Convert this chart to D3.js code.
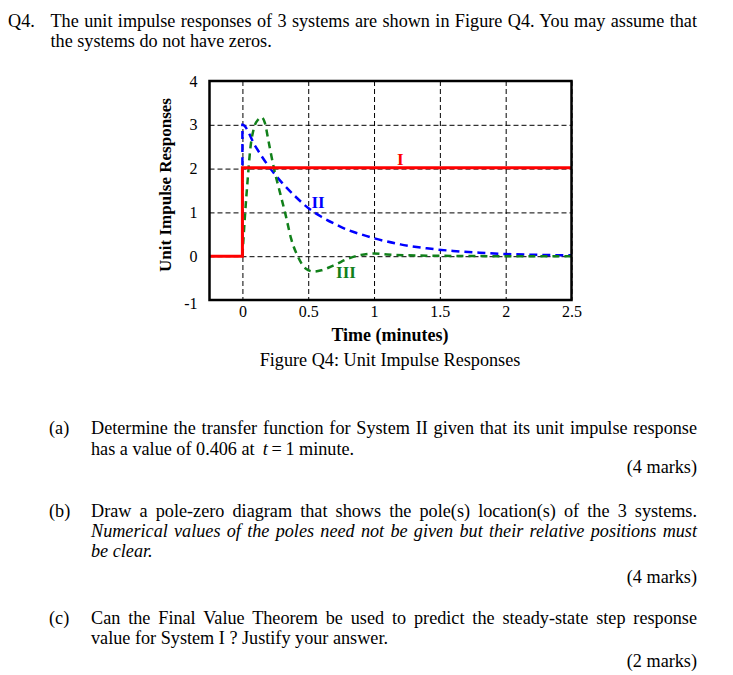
<!DOCTYPE html>
<html>
<head>
<meta charset="utf-8">
<script src="https://cdn.jsdelivr.net/npm/d3@7"></script>
<style>
  body { margin: 0; background: #fff; }
  svg { display: block; }
  text { font-family: "Liberation Serif", "Times New Roman", serif; fill: #000; }
</style>
</head>
<body>
<div id="chart"></div>
<script>
// time axis ticks and value ticks
var xTicks = [0, 0.5, 1, 1.5, 2, 2.5];
var yTicks = [-1, 0, 1, 2, 3, 4];

// System I: step of height 2 at t = 0
var sys1T = [-0.25, 0, 0, 2.5];
var sys1V = [0, 0, 2.02, 2.02];

// System II: first order decay
var sys2T = [0, 0, 0.1, 0.2, 0.3, 0.4, 0.5, 0.6, 0.7, 0.8, 0.9, 1.0, 1.2, 1.4, 1.6, 1.8, 2.0, 2.25, 2.5];
var sys2V = [0, 3.0, 2.5, 2.05, 1.68, 1.37, 1.1, 0.9, 0.74, 0.6, 0.5, 0.41, 0.27, 0.18, 0.12, 0.08, 0.05, 0.03, 0.02];

// System III: underdamped
var sys3T = [0, 0.02, 0.04, 0.06, 0.09, 0.12, 0.145, 0.17, 0.2, 0.24, 0.29, 0.33, 0.37, 0.42, 0.48, 0.54, 0.6, 0.7, 0.8, 0.9, 1.0, 1.1, 1.25, 1.5, 2.0, 2.5];
var sys3V = [0, 0.95, 1.75, 2.45, 2.95, 3.12, 3.17, 3.05, 2.6, 2.0, 1.4, 0.92, 0.4, 0.0, -0.28, -0.35, -0.32, -0.2, -0.06, 0.03, 0.06, 0.04, 0.02, 0.01, 0, 0];

var curveLabels = ["I", "II", "III"];
var labelT = [1.2, 0.575, 0.787];
var labelV = [2.08, 1.1, -0.5];

var width = 733, height = 675;
var margin = {top: 81, right: 161.5, bottom: 375, left: 209.5};
var w = width - margin.left - margin.right,
    h = height - margin.top - margin.bottom;

var svg = d3.select("#chart").append("svg")
    .attr("width", width)
    .attr("height", height);

var g = svg.append("g")
    .attr("transform", "translate(" + margin.left + "," + margin.top + ")");

var x = d3.scaleLinear().domain([-0.25, 2.5]).range([0, w]);
var y = d3.scaleLinear().domain([-1, 4]).range([h, 0]);

// grid
g.append("g")
    .call(d3.axisBottom(x).tickValues(xTicks).tickSize(h).tickFormat(""))
    .call(function(a) {
        a.select(".domain").remove();
        a.selectAll("line").attr("stroke", "#000").attr("stroke-dasharray", "5,3");
    });
g.append("g")
    .call(d3.axisLeft(y).tickValues(yTicks).tickSize(-w).tickFormat(""))
    .call(function(a) {
        a.select(".domain").remove();
        a.selectAll("line").attr("stroke", "#000").attr("stroke-dasharray", "5,3");
    });

// tick labels
var fmt = function(d) { return String(d); };
g.append("g")
    .attr("transform", "translate(0," + h + ")")
    .call(d3.axisBottom(x).tickValues(xTicks).tickSize(0).tickPadding(6).tickFormat(fmt))
    .attr("font-family", "Liberation Serif").attr("font-size", 16)
    .call(function(a) { a.select(".domain").remove(); });
g.append("g")
    .call(d3.axisLeft(y).tickValues(yTicks).tickSize(0).tickPadding(12).tickFormat(fmt))
    .attr("font-family", "Liberation Serif").attr("font-size", 16)
    .call(function(a) {
        a.select(".domain").remove();
        a.selectAll("text")
            .attr("dy", function(d) { return d === -1 ? "0.5em" : "0.32em"; });
    });

var line = d3.line()
    .x(function(d) { return x(d[0]); })
    .y(function(d) { return y(d[1]); })
    .curve(d3.curveMonotoneX);
var stepLine = d3.line()
    .x(function(d) { return x(d[0]); })
    .y(function(d) { return y(d[1]); });

function pairs(ts, vs) { return ts.map(function(t, i) { return [t, vs[i]]; }); }

g.append("path")
    .datum(pairs(sys2T, sys2V))
    .attr("fill", "none")
    .attr("stroke", "#0000ff")
    .attr("stroke-width", 2.5)
    .attr("stroke-dasharray", "8,5")
    .attr("d", line);

g.append("path")
    .datum(pairs(sys3T, sys3V))
    .attr("fill", "none")
    .attr("stroke", "#11801a")
    .attr("stroke-width", 2.5)
    .attr("stroke-dasharray", "7,5")
    .attr("d", line);

g.append("path")
    .datum(pairs(sys1T, sys1V))
    .attr("fill", "none")
    .attr("stroke", "#ff0000")
    .attr("stroke-width", 3)
    .attr("d", stepLine);

var labelColors = ["#ff0000", "#0000ff", "#11801a"];
g.selectAll(".clabel")
    .data(curveLabels)
    .enter().append("text")
    .attr("class", "clabel")
    .attr("x", function(d, i) { return x(labelT[i]); })
    .attr("y", function(d, i) { return y(labelV[i]); })
    .attr("text-anchor", "middle")
    .attr("font-size", 17)
    .attr("font-weight", "bold")
    .style("fill", function(d, i) { return labelColors[i]; })
    .text(function(d) { return d; });

// frame
g.append("rect")
    .attr("width", w)
    .attr("height", h)
    .attr("fill", "none")
    .attr("stroke", "#000")
    .attr("stroke-width", 2.5);

// axis titles
svg.append("text")
    .attr("x", 390).attr("y", 341)
    .attr("text-anchor", "middle")
    .attr("font-size", 18).attr("font-weight", "bold")
    .text("Time (minutes)");
svg.append("text")
    .attr("transform", "translate(171,185) rotate(-90)")
    .attr("text-anchor", "middle")
    .attr("font-size", 17).attr("font-weight", "bold")
    .text("Unit Impulse Responses");
svg.append("text")
    .attr("x", 390).attr("y", 366)
    .attr("text-anchor", "middle")
    .attr("font-size", 18.2)
    .text("Figure Q4: Unit Impulse Responses");

// question text
var body = [
    {t: "Q4.", x: 8, y: 27},
    {t: "The unit impulse responses of 3 systems are shown in Figure Q4. You may assume that", x: 50.5, y: 27, to: 697},
    {t: "the systems do not have zeros.", x: 50.5, y: 46.5},
    {t: "(a)", x: 49, y: 434},
    {t: "Determine the transfer function for System II given that its unit impulse response", x: 91, y: 434, to: 697},
    {t: "has a value of 0.406 at \u2009<i>t</i>\u2009=\u20091 minute.", x: 91, y: 455, html: true},
    {t: "(4 marks)", x: 697, y: 473, anchor: "end"},
    {t: "(b)", x: 49, y: 517},
    {t: "Draw a pole-zero diagram that shows the pole(s) location(s) of the 3 systems.", x: 91, y: 517, to: 697},
    {t: "Numerical values of the poles need not be given but their relative positions must", x: 91, y: 537, to: 697, it: true},
    {t: "be clear.", x: 91, y: 557, it: true},
    {t: "(4 marks)", x: 697, y: 583, anchor: "end"},
    {t: "(c)", x: 49, y: 624},
    {t: "Can the Final Value Theorem be used to predict the steady-state step response", x: 91, y: 624, to: 697},
    {t: "value for System I ? Justify your answer.", x: 91, y: 644},
    {t: "(2 marks)", x: 697, y: 667, anchor: "end"}
];

body.forEach(function(b) {
    var t = svg.append("text")
        .attr("x", b.x).attr("y", b.y)
        .attr("font-size", 18.2)
        .attr("text-anchor", b.anchor || "start")
        .style("font-style", b.it ? "italic" : "normal");
    if (b.html) {
        var parts = b.t.split(/<i>|<\/i>/);
        parts.forEach(function(p, i) {
            t.append("tspan").style("font-style", i % 2 ? "italic" : "normal").text(p);
        });
    } else {
        t.text(b.t);
    }
    if (b.to) {
        var natural = t.node().getComputedTextLength();
        var spaces = b.t.split(" ").length - 1;
        var ws = (b.to - b.x - natural) / spaces;
        t.attr("word-spacing", ws);
    }
});
</script>
</body>
</html>
